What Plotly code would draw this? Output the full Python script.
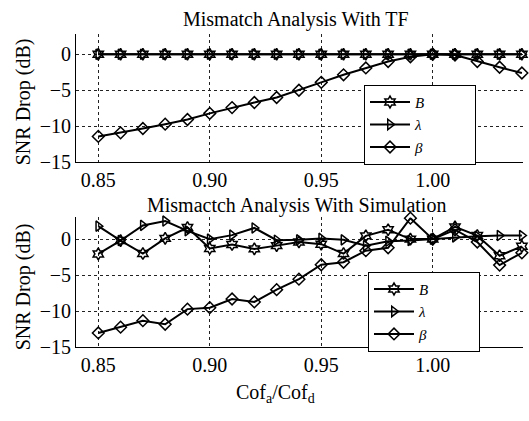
import plotly.graph_objects as go

# ---------------- data ----------------
x_vals = [0.85, 0.86, 0.87, 0.88, 0.89, 0.90, 0.91, 0.92, 0.93, 0.94,
          0.95, 0.96, 0.97, 0.98, 0.99, 1.00, 1.01, 1.02, 1.03, 1.04]

tf_B = [0, 0, 0, 0, 0, 0, 0, 0, 0, 0, 0, 0, 0, 0, 0, 0, 0, 0, 0, 0]
tf_lambda = [0, 0, 0, 0, 0, 0, 0, 0, 0, 0, 0, 0, 0, 0, 0, 0, 0, 0, 0, 0]
tf_beta = [-11.4, -10.9, -10.3, -9.7, -9.05, -8.2, -7.4, -6.7, -6.0, -5.0,
           -3.9, -2.85, -1.9, -1.0, -0.35, 0.0, -0.1, -1.0, -1.8, -2.6]

sim_B = [-2.05, -0.2, -2.0, 0.1, 1.6, -1.3, -0.75, -1.35, -0.9, -0.4,
         -0.7, -2.0, 0.45, 1.3, 0.0, 0.0, 1.7, 0.5, -2.3, -1.0]
sim_lambda = [1.8, -0.2, 1.9, 2.5, 1.15, 0.0, 0.55, 1.55, -0.15, -0.1,
              0.1, -0.1, -0.9, -0.3, -0.2, 0.0, 0.3, 0.4, 0.5, 0.5]
sim_beta = [-13.0, -12.2, -11.3, -11.8, -9.7, -9.5, -8.3, -8.7, -7.0, -5.55,
            -3.55, -3.2, -1.6, -1.2, 2.9, 0.0, 1.3, -0.4, -3.6, -1.9]

series_names = ["<i>B</i>", "<i>λ</i>", "<i>β</i>"]
series_symbols = ["hexagram-open", "triangle-right-open", "diamond-open"]

x_ticks = [0.85, 0.90, 0.95, 1.00]
x_tick_text = ["0.85", "0.90", "0.95", "1.00"]
y_ticks = [0, -5, -10, -15]
y_tick_text = ["0", "\u22125", "\u221210", "\u221215"]

title_top = "Mismatch Analysis With TF"
title_bottom = "Mismactch Analysis With Simulation"
y_title = "SNR Drop (dB)"
x_title = "Cof<sub>a</sub>/Cof<sub>d</sub>"

# ---------------- figure ----------------
W, H = 529, 421
FONT = "Liberation Serif"
PAD = "\u2003\u2003\u2003"  # widens the legend box like the reference

fig = go.Figure()

def add_series(ys, idx, xa, ya, legend):
    fig.add_trace(go.Scatter(
        x=x_vals, y=ys, name=series_names[idx] + PAD, mode="lines+markers",
        xaxis=xa, yaxis=ya, legend=legend, cliponaxis=False,
        line=dict(color="black", width=2),
        marker=dict(symbol=series_symbols[idx], size=9, color="black",
                    line=dict(color="black", width=1.5)),
    ))

for i, ys in enumerate([tf_B, tf_lambda, tf_beta]):
    add_series(ys, i, "x", "y", "legend")
for i, ys in enumerate([sim_B, sim_lambda, sim_beta]):
    add_series(ys, i, "x2", "y2", "legend2")

xdom = [76 / W, 523 / W]
ydom_top = [1 - 166.7 / H, 1 - 35 / H]
ydom_bot = [1 - 356.7 / H, 1 - 223.3 / H]

axis_common = dict(
    showline=True, linecolor="black", linewidth=1, mirror=False,
    showgrid=True, gridcolor="#222", gridwidth=1, griddash="3px,3px",
    zeroline=False, ticks="", tickfont=dict(family=FONT, size=20, color="black"),
)

legend_common = dict(
    xanchor="left", yanchor="top", bgcolor="white", bordercolor="black",
    borderwidth=1, tracegroupgap=0, itemwidth=40,
    font=dict(family=FONT, size=15, color="black"),
)

fig.update_layout(
    width=W, height=H,
    margin=dict(l=0, r=0, t=0, b=0),
    paper_bgcolor="white", plot_bgcolor="white",
    font=dict(family=FONT, size=20, color="black"),
    xaxis=dict(domain=xdom, range=[0.84, 1.0405], anchor="y",
               tickvals=x_ticks, ticktext=x_tick_text, **axis_common),
    yaxis=dict(domain=ydom_top, range=[-15, 2.8], anchor="x",
               tickvals=y_ticks, ticktext=y_tick_text, **axis_common),
    xaxis2=dict(domain=xdom, range=[0.84, 1.0405], anchor="y2",
                tickvals=x_ticks, ticktext=x_tick_text, **axis_common),
    yaxis2=dict(domain=ydom_bot, range=[-15, 3.0], anchor="x2",
                tickvals=y_ticks, ticktext=y_tick_text, **axis_common),
    legend=dict(x=364 / W, y=1 - 87 / H, **legend_common),
    legend2=dict(x=368 / W, y=1 - 279 / H, **legend_common),
)

annos = [
    dict(text=title_top, x=296 / W, y=1 - 20 / H, xanchor="center", yanchor="middle"),
    dict(text=title_bottom, x=296 / W, y=1 - 211 / H, xanchor="center", yanchor="middle"),
    dict(text=y_title, x=23 / W, y=1 - 105 / H, xanchor="center", yanchor="middle", textangle=-90),
    dict(text=y_title, x=23 / W, y=1 - 295 / H, xanchor="center", yanchor="middle", textangle=-90),
    dict(text=x_title, x=275 / W, y=1 - 404 / H, xanchor="center", yanchor="middle"),
]
for a in annos:
    fig.add_annotation(xref="paper", yref="paper", showarrow=False,
                       font=dict(family=FONT, size=20, color="black"), **a)

fig.write_html("out.html")
